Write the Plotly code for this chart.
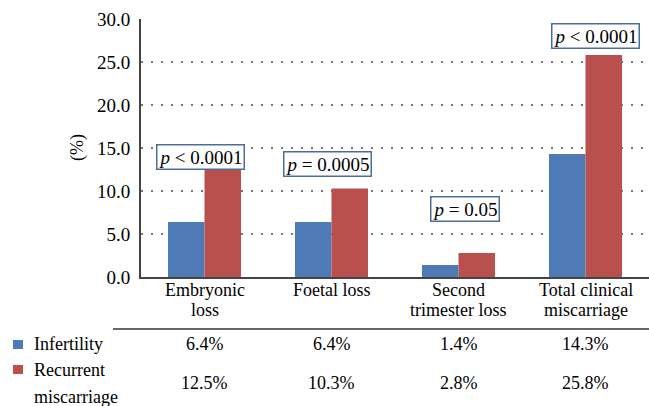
import plotly.graph_objects as go

categories = ["Embryonic<br>loss", "Foetal loss", "Second<br>trimester loss", "Total clinical<br>miscarriage"]
infertility = [6.4, 6.4, 1.4, 14.3]
recurrent = [12.5, 10.3, 2.8, 25.8]
p_values = ["<i>p</i> < 0.0001", "<i>p</i> = 0.0005", "<i>p</i> = 0.05", "<i>p</i> < 0.0001"]
p_label_y = [13.9, 13.1, 7.9, 28.0]
p_label_dx = [-0.03, -0.03, 0.05, 0.08]
y_ticks = [0, 5, 10, 15, 20, 25, 30]

BLUE = "#4E7AB5"
RED = "#B9504E"
FONT = "Liberation Serif, Times New Roman, serif"

x_idx = list(range(len(categories)))

fig = go.Figure()
fig.add_trace(go.Bar(x=x_idx, y=infertility, name="Infertility", marker_color=BLUE, marker_line_width=0))
fig.add_trace(go.Bar(x=x_idx, y=recurrent, name="Recurrent miscarriage", marker_color=RED, marker_line_width=0))

W, H = 649, 406
L, R, T, B = 141, 0, 19, 129
ph = H - T - B
pw = W - L - R

def py(pix):
    return (H - B - pix) / ph

def px(pix):
    return (pix - L) / pw

txt = dict(family=FONT, size=18, color="black")

ann = []
for i, (t, yv, dx) in enumerate(zip(p_values, p_label_y, p_label_dx)):
    ann.append(dict(x=i + dx, y=yv, xref="x", yref="y", text=t, showarrow=False,
                    xanchor="center", yanchor="middle",
                    font=dict(family=FONT, size=19, color="black"),
                    bgcolor="white", bordercolor="#4A6E9C", borderwidth=1.5, borderpad=1))

# category labels (one annotation per line for tighter line spacing)
for i, cat in enumerate(categories):
    for k, line in enumerate(cat.split("<br>")):
        ann.append(dict(x=i, y=py(290 + 20 * k), xref="x", yref="paper", text=line,
                        xanchor="center", yanchor="middle", showarrow=False, font=txt))

# table values
for i in x_idx:
    ann.append(dict(x=i, y=py(344), xref="x", yref="paper", text=f"{infertility[i]:.1f}%",
                    xanchor="center", yanchor="middle", showarrow=False, font=txt))
    ann.append(dict(x=i, y=py(383), xref="x", yref="paper", text=f"{recurrent[i]:.1f}%",
                    xanchor="center", yanchor="middle", showarrow=False, font=txt))

for label, ypix in [("Infertility", 344), ("Recurrent", 370), ("miscarriage", 397)]:
    ann.append(dict(x=px(32), y=py(ypix), xref="paper", yref="paper", text=label,
                    xanchor="left", yanchor="middle", showarrow=False, font=txt))
ann.append(dict(x=px(77), y=0.5, xref="paper", yref="paper", text="(%)", textangle=-90,
                xanchor="center", yanchor="middle", showarrow=False, font=txt))

shapes = [
    dict(type="line", xref="paper", yref="paper", x0=px(113), x1=1, y0=py(329), y1=py(329),
         line=dict(color="#333333", width=1.5)),
    dict(type="rect", xref="paper", yref="paper", x0=px(13), x1=px(23), y0=py(340), y1=py(349),
         fillcolor=BLUE, line_width=0),
    dict(type="rect", xref="paper", yref="paper", x0=px(13), x1=px(23), y0=py(365), y1=py(374),
         fillcolor=RED, line_width=0),
]

fig.update_layout(
    width=W, height=H,
    margin=dict(l=L, r=R, t=T, b=B, pad=0),
    plot_bgcolor="white", paper_bgcolor="white",
    barmode="group", bargap=0.425, bargroupgap=0,
    showlegend=False,
    font=txt,
    annotations=ann, shapes=shapes,
)
fig.update_xaxes(
    range=[-0.5, 3.5], tickmode="array", tickvals=x_idx, ticktext=categories,
    showticklabels=False,
    showline=True, linecolor="#444444", linewidth=2, ticks="", showgrid=False,
    fixedrange=True,
)
fig.update_yaxes(
    range=[0, 30], tickmode="array", tickvals=y_ticks, ticktext=[f"{v:.1f}" for v in y_ticks],
    showline=True, linecolor="#444444", linewidth=2, ticks="",
    showgrid=True, gridcolor="#777777", gridwidth=1.5, griddash="1.5px,8.5px",
    zeroline=False, tickfont=dict(family=FONT, size=19, color="black"), ticklabelstandoff=5,
)

fig.write_html("out.html", config={"displayModeBar": False},
               post_script="document.body.style.margin='0';document.body.style.overflow='hidden';")
